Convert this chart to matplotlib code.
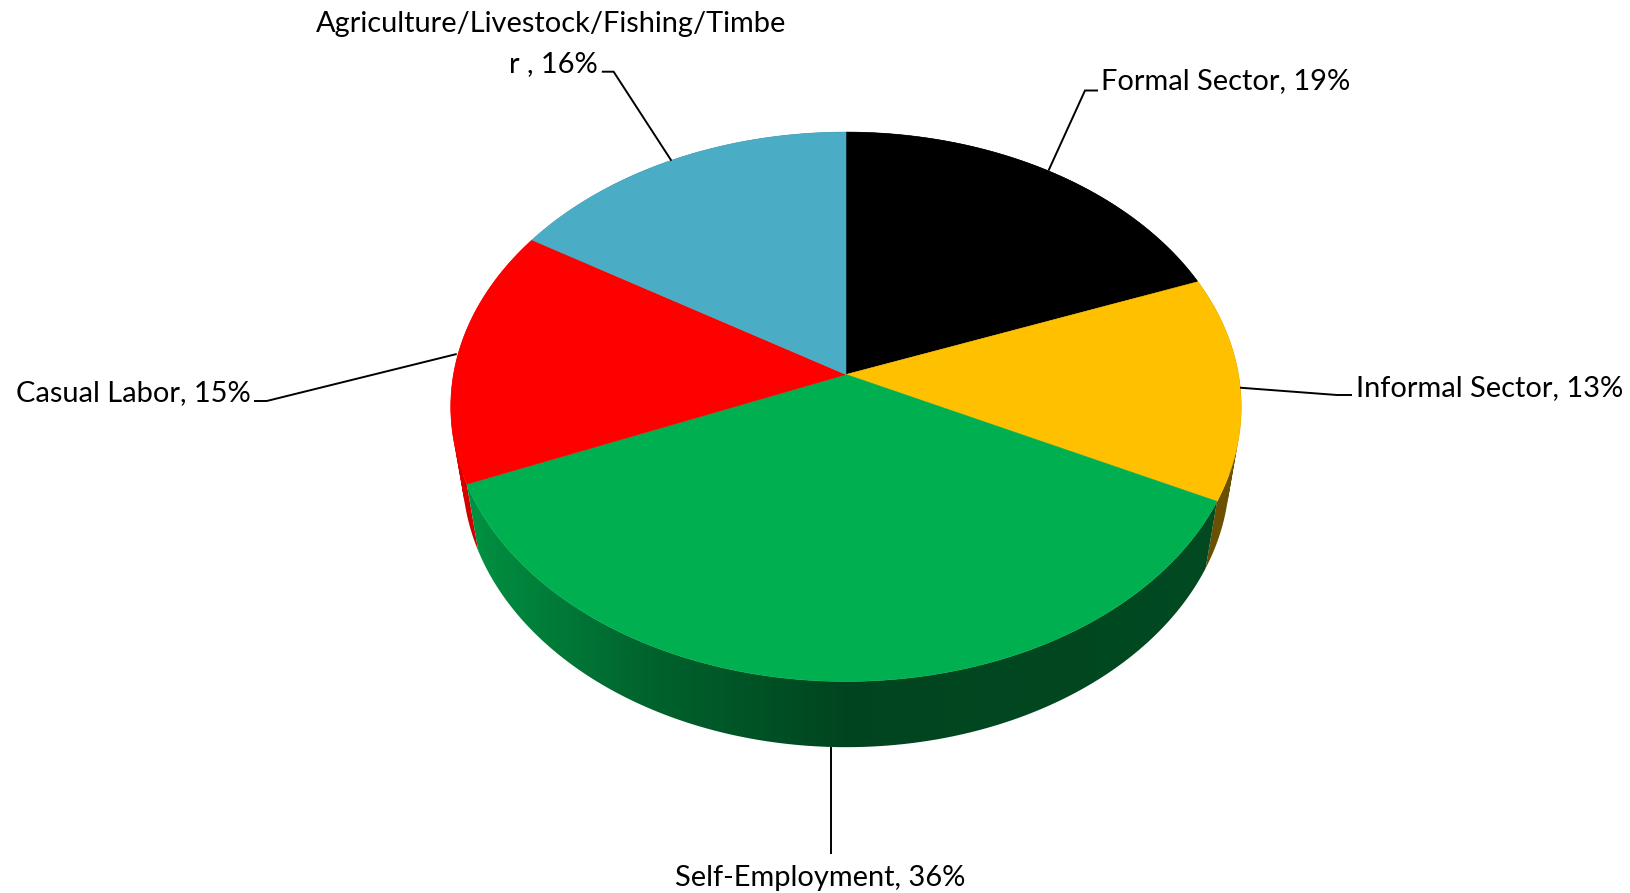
import numpy as np
import matplotlib
matplotlib.use("Agg")
import matplotlib.pyplot as plt
from matplotlib.patches import PathPatch
from matplotlib.path import Path

categories = ["Formal Sector", "Informal Sector", "Self-Employment", "Casual Labor",
              "Agriculture/Livestock/Fishing/Timbe\nr "]
values = [19, 13, 36, 15, 16]
colors = ["#000000", "#FFC000", "#00B050", "#FF0000", "#4BACC6"]

# pie projection (pixels)
cx, cy = 846, 374.5
rx, ry = 392.5, 270.9
persp = 0.1174
depth_w, depth_y = 0.03, 69.2

# wall shading against horizontal position
shade_x = [-1.0, -0.5, 0.0, 1.0]
shade_f = [0.85, 0.56, 0.39, 0.42]

# label anchors: text x, baseline y, then leader line points
label_pos = [(1101, 89.5), (1356, 396), (675, 886), (16, 401), (None, None)]
leaders = [
    [(1048.5, 170.6), (1085, 90.5), (1098, 90.5)],
    [(1240, 387.7), (1337, 395), (1352, 395)],
    [(831, 747), (831, 854)],
    [(456.7, 354), (266.7, 401), (254, 401)],
    [(671.4, 160.7), (613.6, 71.7), (601.8, 71.7)],
]

fracs = np.array(values) / np.sum(values)
edges = np.concatenate([[0], np.cumsum(fracs)]) * 2 * np.pi


def project(theta, bottom=False):
    # clockwise from 12 o'clock, perspective on the disc
    x, y = np.sin(theta), np.cos(theta)
    if bottom:
        w = 1 + persp * y + depth_w
        return cx + rx * x / w, cy - (ry * y - depth_y) / w
    w = 1 + persp * y
    return cx + rx * x / w, cy - ry * y / w


def wall_path(t):
    # one quad per step, all wound the same way so the silhouette stays filled
    xt, yt = project(t)
    xb, yb = project(t, True)
    parts = []
    for j in range(len(t) - 1):
        q = np.array([(xt[j], yt[j]), (xt[j + 1], yt[j + 1]), (xb[j + 1], yb[j + 1]), (xb[j], yb[j])])
        area = np.sum(q[:, 0] * np.roll(q[:, 1], -1) - np.roll(q[:, 0], -1) * q[:, 1])
        if area < 0:
            q = q[::-1]
        parts.append(Path(np.vstack([q, q[0]]), closed=True))
    return Path.make_compound_path(*parts)


fig = plt.figure(figsize=(16.31, 8.93), dpi=100)
ax = fig.add_axes([0, 0, 1, 1])

# side wall, gradient clipped to each slice, back to front
px = np.arange(cx - rx - 20, cx + rx + 20)
shade = np.interp((px - cx) / rx, shade_x, shade_f)
for i in sorted(range(len(values)), key=lambda n: project((edges[n] + edges[n + 1]) / 2, True)[1]):
    base = np.array(matplotlib.colors.to_rgb(colors[i]))
    t = np.linspace(edges[i], edges[i + 1], 200)
    wall = PathPatch(wall_path(t), fc="none", ec="none")
    ax.add_patch(wall)
    grad = (shade[:, None] * base)[None, :, :]
    im = ax.imshow(grad, extent=(px[0], px[-1], 800, 100), aspect="auto", interpolation="bilinear")
    im.set_clip_path(wall)
ax.set_xlim(0, 1631)
ax.set_ylim(893, 0)
ax.axis("off")

# top of the pie
for i, col in enumerate(colors):
    t = np.linspace(edges[i], edges[i + 1], 200)
    x, y = project(t)
    ax.fill(np.r_[cx, x], np.r_[cy, y], color=col, lw=0.4)

# leader lines
for pts in leaders:
    xs, ys = zip(*pts)
    ax.plot(xs, ys, color="black", lw=1.4, solid_capstyle="butt", solid_joinstyle="miter")

# labels
font = dict(family="Lato", fontsize=20.9, color="black", va="baseline")
for i, name in enumerate(categories):
    text = f"{name}, {values[i]}%"
    if "\n" in name:
        first, second = text.split("\n")
        ax.text(316, 32, first, ha="left", **font)
        ax.text(509, 71.7, second, ha="left", **font)
    else:
        ax.text(label_pos[i][0], label_pos[i][1], text, ha="left", **font)

fig.savefig("out.png", dpi=100, facecolor="white")
